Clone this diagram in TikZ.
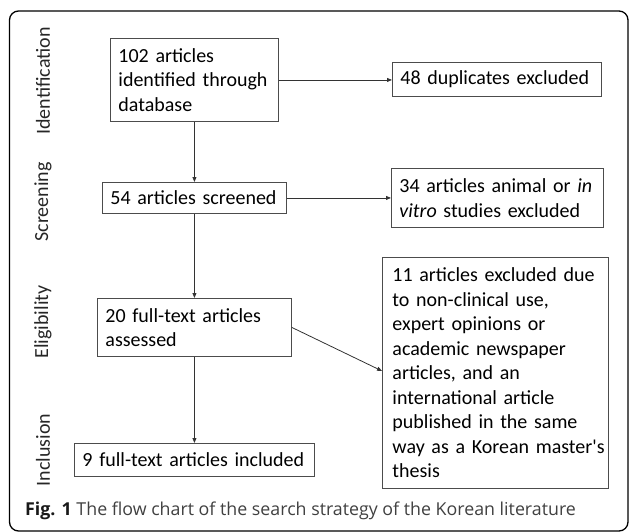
\documentclass[tikz,border=0pt]{standalone}
\usepackage{fontspec}
\setmainfont{Carlito}
\newfontfamily\plainfont{Carlito}[Ligatures=TeXOff]
\newfontfamily\capfont{Open Sans}
\usetikzlibrary{arrows.meta,positioning,calc}
\newcommand{\myln}[1]{\mbox{#1}}
\newcommand{\sq}{{\plainfont'}}
\begin{document}
\begin{tikzpicture}[x=1pt,y=-1pt,
  boxx/.style={draw=black!70,line width=0.9pt,rectangle,anchor=north west,inner xsep=8pt,inner ysep=0pt,align=left,font=\fontsize{20}{24.5}\selectfont,execute at begin node={\hfuzz=60pt\hbadness=10000\hyphenpenalty=10000}},
  side/.style={rotate=90,font=\fontsize{20}{24}\selectfont,text=black!85},
  arr/.style={draw=black!80,line width=0.8pt,-{Triangle[length=5pt,width=4pt]}}]
\useasboundingbox (0,0) rectangle (629,532);
\draw[line width=1.3pt,rounded corners=9pt] (9.5,11) rectangle (628,531);
\node[boxx,minimum width=168pt,minimum height=83pt,text width=152pt] (b1) at (110,38) {\myln{102 articles}\\\myln{identified through}\\\myln{database}};
\node[boxx,minimum width=184pt,minimum height=31pt,text width=168pt] (b2) at (102,182) {\myln{54 articles screened}};
\node[boxx,minimum width=194pt,minimum height=58pt,text width=178pt] (b3) at (97,298) {\myln{20 full-text articles}\\\myln{assessed}};
\node[boxx,minimum width=240pt,minimum height=33pt,text width=224pt] (b4) at (74,443) {\myln{9 full-text articles included}};
\node[boxx,minimum width=209pt,minimum height=34pt,text width=193pt] (d1) at (392,62) {\myln{48 duplicates excluded}};
\node[boxx,minimum width=212pt,minimum height=59pt,text width=196pt] (d2) at (391,168) {\myln{34 articles animal or \textit{in}}\\\myln{\textit{vitro} studies excluded}};
\node[boxx,minimum width=226pt,minimum height=231pt,text width=206pt,inner xsep=10pt] (d3) at (382,257) {\myln{11 articles excluded due}\\\myln{to non-clinical use,}\\\myln{expert opinions or}\\\myln{academic newspaper}\\\myln{articles, and an}\\\myln{international article}\\\myln{published in the same}\\\myln{way as a Korean master\sq s}\\\myln{thesis}};
\node[side] (s1) at (43,81) {Identification};
\node[side] (s2) at (43,202) {Screening};
\node[side] (s3) at (43,322) {Eligibility};
\node[side] (s4) at (43,450) {Inclusion};
\draw[arr] (b1.east) -- (b1.east -| d1.west);
\draw[arr] (b2.east) -- (b2.east -| d2.west);
\draw[arr] (b1.south) -- (b2.north);
\draw[arr] (b2.south) -- (b3.north);
\draw[arr] (b3.south) -- (b4.north);
\draw[arr] (b3.east) -- ($(d3.west)+(0,-2)$);
\node[anchor=base west,inner sep=0pt,font=\capfont\fontsize{17.8}{20}\selectfont,text=black!75] (cap) at (25,515) {\textcolor{black!90}{\bfseries Fig. 1} The flow chart of the search strategy of the Korean literature};
\end{tikzpicture}
\end{document}
